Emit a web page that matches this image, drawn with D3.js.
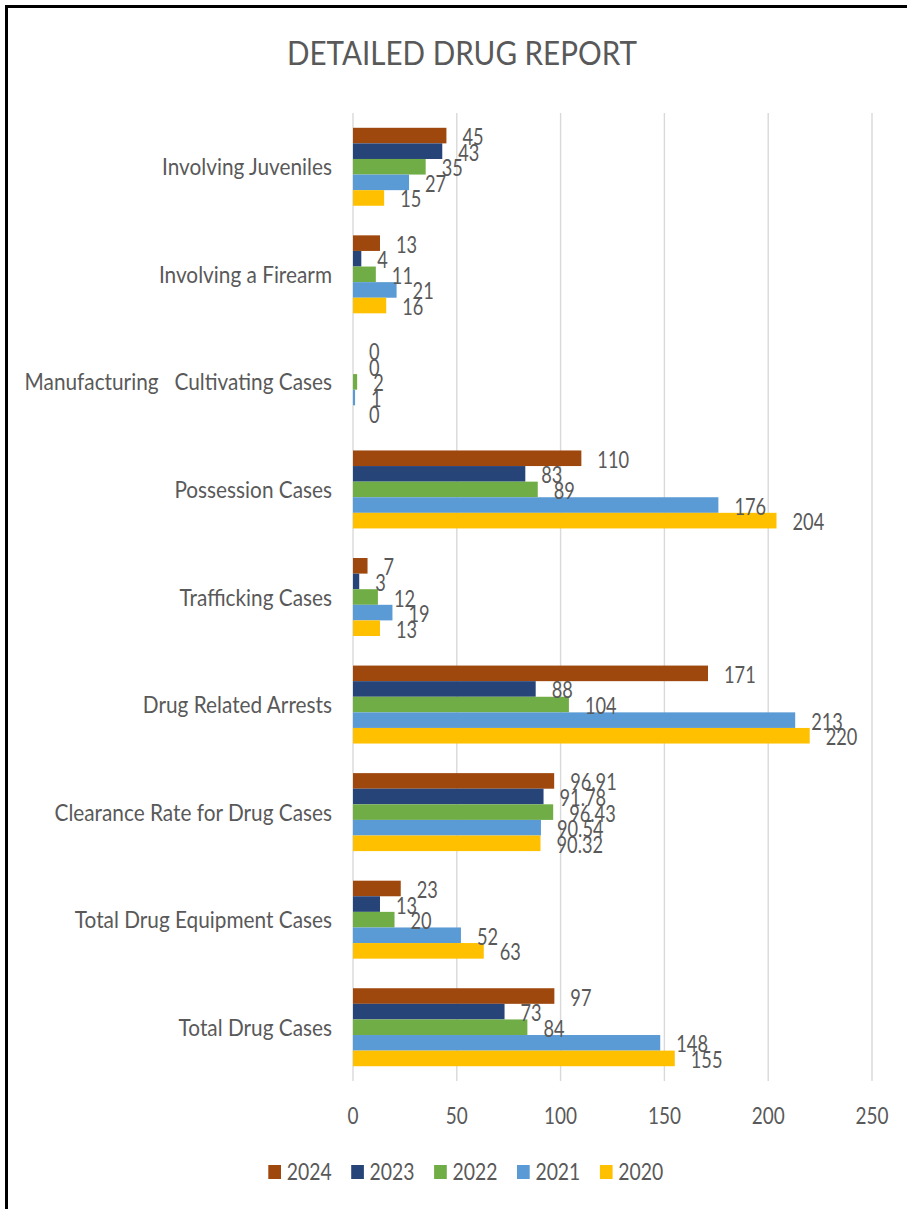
<!DOCTYPE html>
<html><head><meta charset="utf-8">
<script src="https://cdn.jsdelivr.net/npm/d3@7"></script>
<style>
body{margin:0;background:#fff}
svg{display:block}
text{font-family:Lato,'Open Sans',sans-serif;fill:#595959;white-space:pre}
</style>
</head><body>
<svg id="c" width="907" height="1209"></svg>
<script>
const categories = ["Involving Juveniles","Involving a Firearm","Manufacturing   Cultivating Cases","Possession Cases","Trafficking Cases","Drug Related Arrests","Clearance Rate for Drug Cases","Total Drug Equipment Cases","Total Drug Cases"];
const years = ["2024","2023","2022","2021","2020"];
const values2024 = [45,13,0,110,7,171,96.91,23,97];
const values2023 = [43,4,0,83,3,88,91.78,13,73];
const values2022 = [35,11,2,89,12,104,96.43,20,84];
const values2021 = [27,21,1,176,19,213,90.54,52,148];
const values2020 = [15,16,0,204,13,220,90.32,63,155];
const xTicks = [0,50,100,150,200,250];
const colors = ["#9E480E","#264478","#70AD47","#5B9BD5","#FFC000"];
const series = [values2024,values2023,values2022,values2021,values2020];

const svg = d3.select("#c");
const W = 907, H = 1209;
svg.append("rect").attr("width",W).attr("height",H).attr("fill","#fff");

// measurement helper
const meas = svg.append("text").attr("x",-1000).attr("y",-1000);
function measure(str,size){ meas.attr("font-size",size).text(str); return meas.node().getComputedTextLength(); }
function txt(g,str,x,y,size,sx,anchor){
  return g.append("text").attr("transform",`translate(${x},${y}) scale(${sx},1)`)
    .attr("font-size",size).attr("text-anchor",anchor||"start").text(str);
}

const titleSize=32.5, catSize=23.3, valSize=22.3, tickSize=23.5, legSize=22.3;
const sxTitle = 350/measure("DETAILED DRUG REPORT",titleSize);
const sxCat = 170/measure("Involving Juveniles",catSize);
const sxVal = 31.7/measure("171",valSize);
const sxTick = 22/measure("50",tickSize);
const sxLeg = 45/measure("2024",legSize);
meas.remove();

// border
svg.append("path").attr("d",`M6.5,${H+5} L6.5,6.5 L${W+5},6.5`).attr("fill","none").attr("stroke","#000").attr("stroke-width",3);

const x = d3.scaleLinear().domain([0,250]).range([353,872]);
const y = d3.scaleBand().domain(categories).range([113,1081]).paddingInner(0.275).paddingOuter(0.1375);
const yi = d3.scaleBand().domain(years).range([0,y.bandwidth()]);

// gridlines
svg.append("g").selectAll("line").data(xTicks).join("line")
  .attr("x1",d=>x(d)).attr("x2",d=>x(d)).attr("y1",113).attr("y2",1081)
  .attr("stroke","#D9D9D9").attr("stroke-width",1.4);

// title
txt(svg,"DETAILED DRUG REPORT",462,65,titleSize,sxTitle,"middle");

// bars
const gBars = svg.append("g");
series.forEach((vals,si)=>{
  gBars.append("g").selectAll("rect").data(vals).join("rect")
    .attr("x",x(0)).attr("y",(d,i)=>y(categories[i])+yi(years[si]))
    .attr("width",d=>x(d)-x(0)).attr("height",yi.bandwidth())
    .attr("fill",colors[si]);
});

// value labels
const gLab = svg.append("g");
series.forEach((vals,si)=>{
  vals.forEach((v,i)=>{
    const cy = y(categories[i])+yi(years[si])+yi.bandwidth()/2;
    txt(gLab,String(v),x(v)+16,cy+1.5+8,valSize,sxVal,"start");
  });
});

// category labels
const gCat = svg.append("g");
categories.forEach(c=>{
  txt(gCat,c,332,y(c)+y.bandwidth()/2+8.6,catSize,sxCat,"end");
});

// tick labels
const gTick = svg.append("g");
xTicks.forEach(t=>{ txt(gTick,String(t),x(t),1123.5,tickSize,sxTick,"middle"); });

// legend
const gLeg = svg.append("g");
years.forEach((yr,i)=>{
  const lx = 268.3 + i*82.9;
  gLeg.append("rect").attr("x",lx).attr("y",1165).attr("width",12.7).attr("height",14).attr("fill",colors[i]);
  txt(gLeg,yr,lx+18.4,1180,legSize,sxLeg,"start");
});
</script>
</body></html>
